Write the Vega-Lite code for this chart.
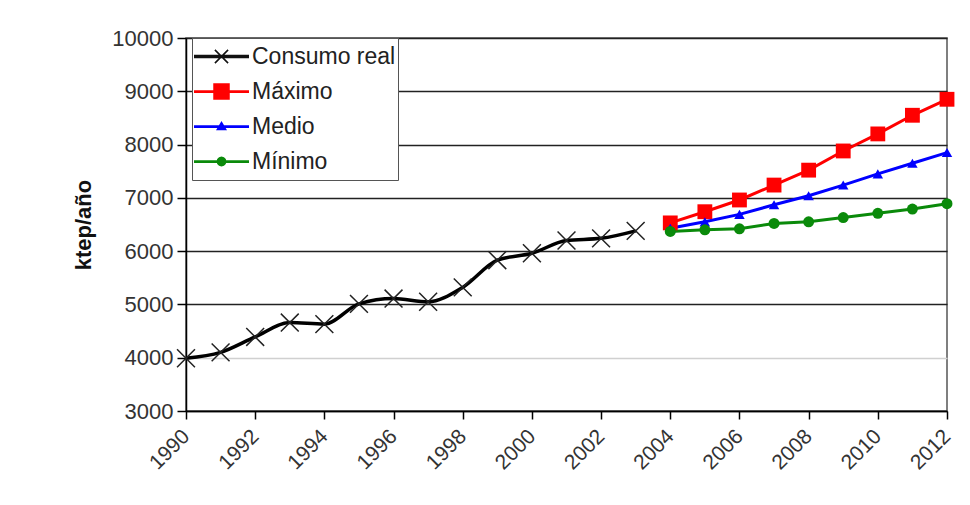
{
  "$schema": "https://vega.github.io/schema/vega-lite/v6.json",
  "width": 761,
  "height": 373,
  "autosize": {"type": "none"},
  "padding": {"left": 186, "top": 38, "right": 23, "bottom": 94},
  "background": "white",
  "config": {
    "view": {"stroke": "#555", "strokeWidth": 1.5},
    "font": "Liberation Sans"
  },
  "data": {
    "values": [
      {"year": 1990, "series": "Consumo real", "value": 3990},
      {"year": 1991, "series": "Consumo real", "value": 4100},
      {"year": 1992, "series": "Consumo real", "value": 4390},
      {"year": 1993, "series": "Consumo real", "value": 4660},
      {"year": 1994, "series": "Consumo real", "value": 4630},
      {"year": 1995, "series": "Consumo real", "value": 5010},
      {"year": 1996, "series": "Consumo real", "value": 5110},
      {"year": 1997, "series": "Consumo real", "value": 5050},
      {"year": 1998, "series": "Consumo real", "value": 5320},
      {"year": 1999, "series": "Consumo real", "value": 5830},
      {"year": 2000, "series": "Consumo real", "value": 5960},
      {"year": 2001, "series": "Consumo real", "value": 6200},
      {"year": 2002, "series": "Consumo real", "value": 6240},
      {"year": 2003, "series": "Consumo real", "value": 6380},
      {"year": 2004, "series": "Máximo", "value": 6530},
      {"year": 2005, "series": "Máximo", "value": 6740},
      {"year": 2006, "series": "Máximo", "value": 6960},
      {"year": 2007, "series": "Máximo", "value": 7240},
      {"year": 2008, "series": "Máximo", "value": 7520},
      {"year": 2009, "series": "Máximo", "value": 7880},
      {"year": 2010, "series": "Máximo", "value": 8200},
      {"year": 2011, "series": "Máximo", "value": 8550},
      {"year": 2012, "series": "Máximo", "value": 8850},
      {"year": 2004, "series": "Medio", "value": 6430},
      {"year": 2005, "series": "Medio", "value": 6550},
      {"year": 2006, "series": "Medio", "value": 6690},
      {"year": 2007, "series": "Medio", "value": 6870},
      {"year": 2008, "series": "Medio", "value": 7040},
      {"year": 2009, "series": "Medio", "value": 7240},
      {"year": 2010, "series": "Medio", "value": 7450},
      {"year": 2011, "series": "Medio", "value": 7650},
      {"year": 2012, "series": "Medio", "value": 7850},
      {"year": 2004, "series": "Mínimo", "value": 6370},
      {"year": 2005, "series": "Mínimo", "value": 6400},
      {"year": 2006, "series": "Mínimo", "value": 6420},
      {"year": 2007, "series": "Mínimo", "value": 6520},
      {"year": 2008, "series": "Mínimo", "value": 6550},
      {"year": 2009, "series": "Mínimo", "value": 6630},
      {"year": 2010, "series": "Mínimo", "value": 6710},
      {"year": 2011, "series": "Mínimo", "value": 6790},
      {"year": 2012, "series": "Mínimo", "value": 6890}
    ]
  },
  "encoding": {
    "x": {
      "field": "year",
      "type": "quantitative",
      "scale": {"domain": [1990, 2012], "nice": false, "zero": false},
      "axis": {
        "values": [1990, 1992, 1994, 1996, 1998, 2000, 2002, 2004, 2006, 2008, 2010, 2012],
        "format": "d",
        "labelAngle": -45,
        "labelAlign": "right",
        "labelBaseline": "middle",
        "labelFontSize": 21,
        "labelColor": "#333",
        "labelPadding": 14,
        "labelOverlap": false,
        "labelFlush": false,
        "tickSize": 8,
        "tickColor": "#000",
        "tickWidth": 1.5,
        "domainColor": "#000",
        "domainWidth": 1.5,
        "grid": false,
        "title": null
      }
    },
    "y": {
      "field": "value",
      "type": "quantitative",
      "scale": {"domain": [3000, 10000], "nice": false, "zero": false},
      "axis": {
        "values": [3000, 4000, 5000, 6000, 7000, 8000, 9000, 10000],
        "format": "d",
        "labelFontSize": 22,
        "labelColor": "#333",
        "labelPadding": 4,
        "labelOverlap": false,
        "labelFlush": false,
        "tickSize": 9,
        "tickColor": "#000",
        "tickWidth": 1.5,
        "domainColor": "#000",
        "domainWidth": 1.5,
        "grid": true,
        "gridColor": {"condition": {"test": "datum.value == 4000", "value": "#d0d0d0"}, "value": "#222"},
        "gridWidth": 1.5,
        "title": "ktep/año",
        "titleFontSize": 22,
        "titleFontWeight": "bold",
        "titleColor": "#111",
        "titlePadding": 16
      }
    }
  },
  "layer": [
    {
      "transform": [{"filter": "datum.series == 'Consumo real'"}],
      "mark": {"type": "line", "color": "#000", "strokeWidth": 3.5, "interpolate": "monotone"}
    },
    {
      "transform": [{"filter": "datum.series == 'Máximo'"}],
      "mark": {"type": "line", "color": "#ff0000", "strokeWidth": 3}
    },
    {
      "transform": [{"filter": "datum.series == 'Medio'"}],
      "mark": {"type": "line", "color": "#0000ff", "strokeWidth": 3}
    },
    {
      "transform": [{"filter": "datum.series == 'Mínimo'"}],
      "mark": {"type": "line", "color": "#0a8a0a", "strokeWidth": 3}
    },
    {
      "transform": [{"filter": "datum.series == 'Consumo real'"}],
      "mark": {"type": "point", "shape": "M-1,-1L1,1M-1,1L1,-1", "filled": false, "stroke": "#222", "strokeWidth": 1.5, "size": 320, "opacity": 1}
    },
    {
      "transform": [{"filter": "datum.series == 'Máximo'"}],
      "mark": {"type": "point", "shape": "square", "filled": true, "color": "#ff0000", "size": 220, "opacity": 1}
    },
    {
      "transform": [{"filter": "datum.series == 'Medio'"}],
      "mark": {"type": "point", "shape": "triangle-up", "filled": true, "color": "#0000ff", "size": 110, "opacity": 1}
    },
    {
      "transform": [{"filter": "datum.series == 'Mínimo'"}],
      "mark": {"type": "point", "shape": "circle", "filled": true, "color": "#0a8a0a", "size": 120, "opacity": 1}
    },
    {
      "transform": [{"filter": "datum.value < 0"}],
      "mark": {"type": "point", "filled": true, "opacity": 1},
      "encoding": {
        "fill": {
          "field": "series",
          "type": "nominal",
          "scale": {
            "domain": ["Consumo real", "Máximo", "Medio", "Mínimo"],
            "range": ["#111111", "#ff0000", "#0000ff", "#0a8a0a"]
          },
          "legend": {
            "title": null,
            "orient": "none",
            "legendX": 6,
            "legendY": 0,
            "padding": 2,
            "fillColor": "white",
            "strokeColor": "#555",
            "labelFont": "Liberation Sans",
            "labelFontSize": 23,
            "labelColor": "#222",
            "labelLimit": 300,
            "labelOffset": 3,
            "symbolSize": 3025,
            "symbolStrokeWidth": 0,
            "symbolOpacity": 1,
            "clipHeight": 33,
            "rowPadding": 2
          }
        },
        "shape": {
          "field": "series",
          "type": "nominal",
          "scale": {
            "domain": ["Consumo real", "Máximo", "Medio", "Mínimo"],
            "range": [
              "M-1,-0.065H1V0.065H-1ZM-0.22,-0.26L0.26,0.22L0.22,0.26L-0.26,-0.22ZM0.22,-0.26L0.26,-0.22L-0.22,0.26L-0.26,0.22Z",
              "M-1,-0.05H1V0.05H-1ZM-0.3,-0.3H0.3V0.3H-0.3Z",
              "M-1,-0.05H1V0.05H-1ZM0,-0.2L0.2,0.14H-0.2Z",
              "M-1,-0.05H1V0.05H-1ZM0,-0.18L0.09,-0.156L0.156,-0.09L0.18,0L0.156,0.09L0.09,0.156L0,0.18L-0.09,0.156L-0.156,0.09L-0.18,0L-0.156,-0.09L-0.09,-0.156Z"
            ]
          },
          "legend": {
            "title": null,
            "orient": "none",
            "legendX": 6,
            "legendY": 0,
            "padding": 2,
            "fillColor": "white",
            "strokeColor": "#555",
            "labelFont": "Liberation Sans",
            "labelFontSize": 23,
            "labelColor": "#222",
            "labelLimit": 300,
            "labelOffset": 3,
            "symbolSize": 3025,
            "symbolStrokeWidth": 0,
            "symbolOpacity": 1,
            "clipHeight": 33,
            "rowPadding": 2
          }
        }
      }
    }
  ]
}
